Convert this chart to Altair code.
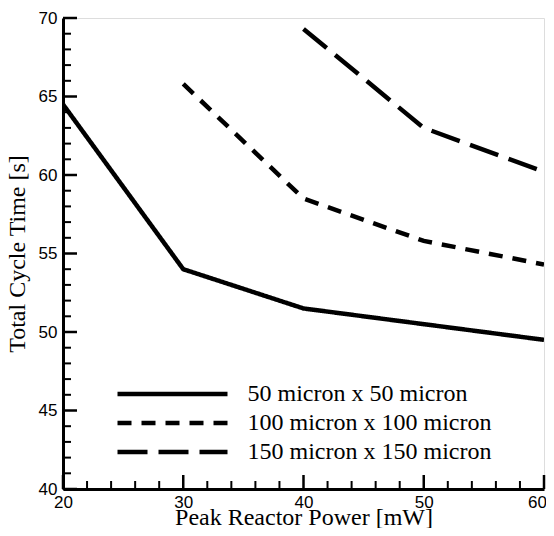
import altair as alt
import pandas as pd

power = [20, 30, 40, 50, 60]
s50 = [64.5, 54.0, 51.5, 50.5, 49.5]
p100 = [30, 40, 50, 60]
s100 = [65.8, 58.5, 55.8, 54.3]
p150 = [40, 50, 60]
s150 = [69.3, 63.0, 60.2]
names = ["50 micron x 50 micron", "100 micron x 100 micron", "150 micron x 150 micron"]

x_major = [20, 30, 40, 50, 60]
x_minor = [22, 24, 26, 28, 32, 34, 36, 38, 42, 44, 46, 48, 52, 54, 56, 58]
y_major = [40, 45, 50, 55, 60, 65, 70]
y_minor = [v for v in range(41, 70) if v % 5 != 0]

rows = []
for p, v in zip(power, s50):
    rows.append({"power": p, "time": v, "size": names[0]})
for p, v in zip(p100, s100):
    rows.append({"power": p, "time": v, "size": names[1]})
for p, v in zip(p150, s150):
    rows.append({"power": p, "time": v, "size": names[2]})
df = pd.DataFrame(rows)

W, H = 481, 471
SERIF = "Liberation Serif"
SANS = "Liberation Sans"

xscale = alt.Scale(domain=[20, 60], nice=False, zero=False)
yscale = alt.Scale(domain=[40, 70], nice=False, zero=False)

xaxis = alt.Axis(values=x_major, format="d", title="Peak Reactor Power [mW]", ticks=False, tickSize=0,
                 grid=False, domainWidth=3, domainColor="black", labelFont=SANS, labelFontSize=17,
                 labelColor="black", labelPadding=5, labelFlush=False,
                 labelOffset={"condition": {"test": "datum.value == 60", "value": -7}, "value": 0},
                 titleFont=SERIF, titleFontSize=24, titleFontWeight="normal", titleColor="black",
                 titleBaseline="alphabetic", titleY=35)
yaxis = alt.Axis(values=y_major, format="d", title="Total Cycle Time [s]", ticks=False, tickSize=0,
                 grid=False, domainWidth=3, domainColor="black", labelFont=SANS, labelFontSize=17,
                 labelColor="black", labelPadding=6, labelFlush=False,
                 titleFont=SERIF, titleFontSize=24, titleFontWeight="normal", titleColor="black",
                 titlePadding=9)

lines = alt.Chart(df).mark_line(strokeWidth=4.5, color="black", strokeCap="butt", clip=True).encode(
    x=alt.X("power:Q", scale=xscale, axis=xaxis),
    y=alt.Y("time:Q", scale=yscale, axis=yaxis),
    strokeDash=alt.StrokeDash("size:N", sort=names,
        scale=alt.Scale(domain=names, range=[[1, 0], [14, 10], [30, 11]]),
        legend=alt.Legend(title=None, orient="none", legendX=97.5, legendY=364,
                          symbolType="M-20,0H20", symbolSize=30.25, symbolStrokeWidth=4.5,
                          symbolStrokeColor="black", labelFont=SERIF, labelFontSize=24,
                          labelColor="black", labelOffset=63, labelLimit=400,
                          rowPadding=5, padding=0)),
    detail="size:N",
)

xmaj = alt.Chart(pd.DataFrame({"power": x_major})).mark_rule(color="black", strokeWidth=2.5).encode(
    x=alt.X("power:Q", scale=xscale, axis=xaxis), y=alt.value(H), y2=alt.value(H - 14))
xmin = alt.Chart(pd.DataFrame({"power": x_minor})).mark_rule(color="black", strokeWidth=2).encode(
    x=alt.X("power:Q", scale=xscale, axis=xaxis), y=alt.value(H), y2=alt.value(H - 8))
ymaj = alt.Chart(pd.DataFrame({"time": y_major})).mark_rule(color="black", strokeWidth=2.5).encode(
    y=alt.Y("time:Q", scale=yscale, axis=yaxis), x=alt.value(0), x2=alt.value(14))
ymin = alt.Chart(pd.DataFrame({"time": y_minor})).mark_rule(color="black", strokeWidth=2).encode(
    y=alt.Y("time:Q", scale=yscale, axis=yaxis), x=alt.value(0), x2=alt.value(8))

chart = alt.layer(lines, xmaj, xmin, ymaj, ymin).properties(
    width=W, height=H,
    autosize=alt.AutoSizeParams(type="none"),
    padding={"left": 55, "top": 10, "right": 2, "bottom": 39},
).configure_view(stroke=None).configure(background="white")

chart.save("out.html", embed_options={"renderer": "svg", "actions": False})
